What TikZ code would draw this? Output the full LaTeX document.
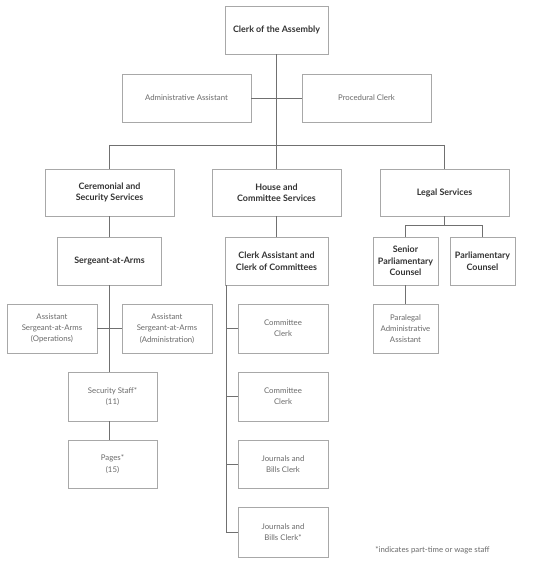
\documentclass[tikz,border=0pt]{standalone}
\usepackage{fontspec}
\setmainfont{Lato}
\definecolor{boxline}{HTML}{A8A8A8}
\definecolor{conn}{HTML}{707070}
\definecolor{boldtxt}{HTML}{333333}
\definecolor{regtxt}{HTML}{6A6A6A}
\begin{document}
\begin{tikzpicture}[x=1pt,y=-1pt,
  box/.style={draw=boxline,line width=0.8pt,align=center,inner sep=1pt,
    minimum height=48pt},
  bbox/.style={box,text=boldtxt,font=\fontsize{8.9}{11.5}\selectfont\bfseries},
  rbox/.style={box,text=regtxt,font=\fontsize{7.8}{11.3}\selectfont},
  link/.style={draw=conn,line width=0.8pt}]
\useasboundingbox (0,0) rectangle (550,564);
\fill[white] (0,0) rectangle (550,564);
% boxes
\node[bbox,minimum width=103pt] (clerk) at (276.5,30) {Clerk of the Assembly};
\node[rbox,minimum width=129pt] (admin) at (186.5,98) {Administrative Assistant};
\node[rbox,minimum width=129pt] (proc) at (366.5,98) {Procedural Clerk};
\node[bbox,minimum width=129pt,minimum height=47pt] (cer) at (109.5,192.5) {Ceremonial and\\Security Services};
\node[bbox,minimum width=129pt,minimum height=47pt] (house) at (276.5,192.5) {House and\\Committee Services};
\node[bbox,minimum width=129pt,minimum height=47pt] (legal) at (444.5,192.5) {Legal Services};
\node[bbox,minimum width=104pt] (sgt) at (109.5,261) {Sergeant-at-Arms};
\node[bbox,minimum width=103pt] (cac) at (276.5,261) {Clerk Assistant and\\Clerk of Committees};
\node[bbox,minimum width=65pt] (spc) at (405.5,261) {Senior\\Parliamentary\\Counsel};
\node[bbox,minimum width=65pt] (pc) at (482.5,261) {Parliamentary\\Counsel};
\node[rbox,minimum width=90pt,minimum height=49pt] (asop) at (52,328.5) {Assistant\\Sergeant-at-Arms\\(Operations)};
\node[rbox,minimum width=90pt,minimum height=49pt] (asad) at (167,328.5) {Assistant\\Sergeant-at-Arms\\(Administration)};
\node[rbox,minimum width=90pt,minimum height=49pt] (cc1) at (283,328.5) {Committee\\Clerk};
\node[rbox,minimum width=65pt,minimum height=49pt] (para) at (405.5,328.5) {Paralegal\\Administrative\\Assistant};
\node[rbox,minimum width=89pt,minimum height=49pt] (sec) at (112.5,396.5) {Security Staff*\\(11)};
\node[rbox,minimum width=89pt] (pages) at (112.5,464) {Pages*\\(15)};
\node[rbox,minimum width=90pt,minimum height=49pt] (cc2) at (283,396.5) {Committee\\Clerk};
\node[rbox,minimum width=90pt] (jb1) at (283,464) {Journals and\\Bills Clerk};
\node[rbox,minimum width=90pt,minimum height=50pt] (jb2) at (283,532) {Journals and\\Bills Clerk*};
\node[text=regtxt,font=\fontsize{7.8}{9}\selectfont,inner sep=0pt] (note) at (432.5,550) {*indicates part-time or wage staff};
% connectors
\coordinate (busL) at (109.5,145);
\coordinate (busC) at (276.5,145);
\coordinate (busR) at (444.5,145);
\coordinate (legL) at (405.5,225);
\coordinate (legC) at (444.5,225);
\coordinate (legR) at (482.5,225);
\coordinate (secT) at (109.5,372);
\coordinate (secB) at (109.5,421);
\coordinate (pagT) at (109.5,440);
\coordinate (cacT) at (226,285);
\coordinate (cacB) at (226,532);
\draw[link] (clerk.south) -- (busC);
\draw[link] (admin.east) -- (proc.west);
\draw[link] (busL) -- (busR);
\draw[link] (busL) -- (cer.north);
\draw[link] (busC) -- (house.north);
\draw[link] (busR) -- (legal.north);
\draw[link] (cer.south) -- (sgt.north);
\draw[link] (house.south) -- (cac.north);
\draw[link] (legal.south) -- (legC);
\draw[link] (legL) -- (legR);
\draw[link] (legL) -- (spc.north);
\draw[link] (legR) -- (pc.north);
\draw[link] (spc.south) -- (para.north);
\draw[link] (sgt.south) -- (secT);
\draw[link] (asop.east) -- (asad.west);
\draw[link] (secB) -- (pagT);
\draw[link] (cacT) -- (cacB);
\draw[link] (cacT |- cc1.west) -- (cc1.west);
\draw[link] (cacT |- cc2.west) -- (cc2.west);
\draw[link] (cacT |- jb1.west) -- (jb1.west);
\draw[link] (cacT |- jb2.west) -- (jb2.west);
\end{tikzpicture}
\end{document}
